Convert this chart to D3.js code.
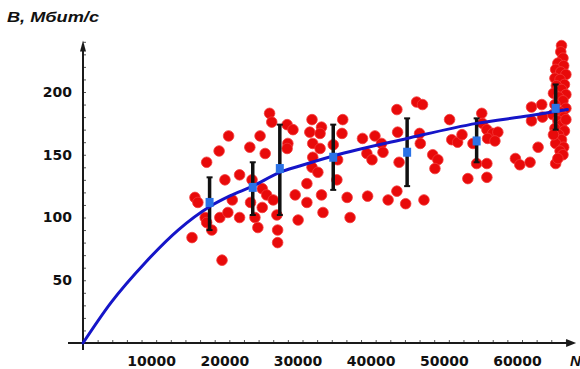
<!DOCTYPE html>
<html><head><meta charset="utf-8">
<script src="https://cdn.jsdelivr.net/npm/d3@7"></script>
<style>
html,body{margin:0;padding:0;background:#fff;overflow:hidden;}
svg{display:block;}
</style></head>
<body>
<svg id="chart" width="580" height="369"></svg>
<script>
// ---- data ----
const yLabel = "В, Мбит/с";
const xLabel = "N";
const xTickValues = [10000, 20000, 30000, 40000, 50000, 60000];
const yTickValues = [50, 100, 150, 200];

// measured points [N, B]
const measured = [
  [14900,84],[15300,116],[15700,112],[16700,100],[16900,96],[17600,90],[16900,144],[18600,153],
  [19900,165],[19400,130],[20400,114],[18700,100],[19800,104],[19000,66],
  [21400,134],[23100,130],[22800,156],[24200,165],[24900,151],[21400,100],[23500,100],[23900,92],
  [22900,112],[24500,108],[24500,123],[25100,118],[26000,114],[26500,102],[26600,90],[26600,80],
  [25500,183],[25800,176],[27900,174],[28700,170],[28000,159],[27900,155],[29000,118],[29400,98],
  [30600,127],[30600,112],
  [31300,178],[32600,172],[35500,178],[31000,168],[32400,167],[35400,167],[31400,159],[32400,155],
  [34200,158],[31400,148],[34800,146],[31300,140],[32100,136],[34700,130],[32600,118],[36100,116],
  [32800,104],[36500,100],
  [38200,163],[39900,165],[40800,159],[41000,152],[38800,151],[39500,146],[42900,186],[43000,168],
  [46000,167],[46100,159],[45600,192],[46400,190],[43200,144],[38900,117],[41700,114],[42900,121],
  [44100,111],[46600,114],[47800,150],[48500,146],[48100,139],
  [50100,178],[54500,183],[54600,175],[55200,170],[56000,167],[56700,168],[55300,163],[56300,161],
  [50400,162],[51200,160],[51800,166],[53300,159],[53800,143],[55200,143],[52600,131],[55200,132],
  [59100,147],[59700,142],[61100,144],[61300,188],[62700,190],[61300,177],[62800,180],[62200,156],
  [64600,143],
  [65400,237],[65300,232],[65600,227],[64900,223],[65700,221],[64600,218],[65300,216],[66000,214],
  [64500,211],[65200,210],[65800,206],[64700,205],[65400,202],[64300,199],[66000,198],[65000,196],
  [65600,193],[64500,190],[66000,187],[65200,184],[64200,182],[65700,180],[64900,177],[65400,174],
  [64500,171],[65800,169],[65000,166],[65400,162],[64600,159],[65700,156],[65200,153],[65600,150],
  [64900,147],[66000,178],[64300,166]
];

// group means with spread: [N, mean, upper, lower]
const groupN     = [17300, 23200, 26900, 34200, 44300, 53800, 64600];
const groupMean  = [112, 124, 139, 148, 152, 161, 187];
const groupUpper = [132, 144, 174, 174, 179, 179, 206];
const groupLower = [90, 102, 102, 122, 125, 144, 170];

// fitted curve [N, B]
const fitCurve = [
  [0,0],[3800,32],[8500,64],[13000,90],[17400,109],[20000,117],[23200,125],[26900,136],
  [29600,141],[34200,149],[44300,163],[53800,175],[61000,181],[66200,186]
];

// ---- drawing ----
const svg = d3.select("#chart");
const x = d3.scaleLinear().domain([0, 60000]).range([83, 522]);
const y = d3.scaleLinear().domain([0, 200]).range([343, 92]);

const axisColor = "#1a1a1a";
const labelFont = "'DejaVu Sans', Verdana, sans-serif";

// minor ticks
const xMinor = d3.range(2000, 67000, 2000);
const yMinor = d3.range(10, 241, 10);

const gx = svg.append("g").attr("transform", `translate(0,${y(0)})`);
gx.call(d3.axisBottom(x).tickValues(xMinor).tickSize(-3).tickFormat(""));
gx.select(".domain").remove();
gx.selectAll("line").attr("stroke", "#555").attr("stroke-width", 1);

const gxl = svg.append("g").attr("transform", `translate(0,${y(0)})`);
gxl.call(d3.axisBottom(x).tickValues(xTickValues).tickSize(0).tickPadding(13).tickFormat(d3.format("d")));
gxl.select(".domain").remove();
gxl.selectAll("text").attr("font-family", labelFont).attr("font-size", 14).attr("font-weight", "bold")
   .attr("fill", "#111").attr("dx", -5);

const gy = svg.append("g").attr("transform", `translate(${x(0)},0)`);
gy.call(d3.axisLeft(y).tickValues(yMinor).tickSize(-3).tickFormat(""));
gy.select(".domain").remove();
gy.selectAll("line").attr("stroke", "#555").attr("stroke-width", 1);

const gyl = svg.append("g").attr("transform", `translate(${x(0)},0)`);
gyl.call(d3.axisLeft(y).tickValues(yTickValues).tickSize(0).tickPadding(11));
gyl.select(".domain").remove();
gyl.selectAll("text").attr("font-family", labelFont).attr("font-size", 14).attr("font-weight", "bold").attr("fill", "#111");

// axis lines with arrows
const x0 = x(0), y0 = y(0);
const xEnd = x(67400), yTop = y(241);
svg.append("line").attr("x1", x0 - 15).attr("x2", xEnd - 4).attr("y1", y0).attr("y2", y0)
  .attr("stroke", axisColor).attr("stroke-width", 2);
svg.append("line").attr("x1", x0).attr("x2", x0).attr("y1", y0 + 7).attr("y2", yTop + 4)
  .attr("stroke", axisColor).attr("stroke-width", 2);
svg.append("path").attr("d", `M${xEnd},${y0} L${xEnd - 10},${y0 - 4} L${xEnd - 10},${y0 + 4} Z`).attr("fill", axisColor);
svg.append("path").attr("d", `M${x0},${yTop} L${x0 - 3},${yTop + 11} L${x0 + 3},${yTop + 11} Z`).attr("fill", axisColor);

// scatter
svg.append("g").selectAll("circle").data(measured).join("circle")
  .attr("cx", d => x(d[0])).attr("cy", d => y(d[1])).attr("r", 5.3)
  .attr("fill", "#e80a0a").attr("stroke", "#f23a3a").attr("stroke-width", 0.8);

// error bars
const bars = groupN.map((n, i) => ({n, m: groupMean[i], hi: groupUpper[i], lo: groupLower[i]}));
const gb = svg.append("g");
gb.selectAll("line.bar").data(bars).join("line").attr("class", "bar")
  .attr("x1", d => x(d.n)).attr("x2", d => x(d.n)).attr("y1", d => y(d.hi)).attr("y2", d => y(d.lo))
  .attr("stroke", "#111").attr("stroke-width", 3.5);
gb.selectAll("line.capT").data(bars).join("line").attr("class", "capT")
  .attr("x1", d => x(d.n) - 3).attr("x2", d => x(d.n) + 3).attr("y1", d => y(d.hi)).attr("y2", d => y(d.hi))
  .attr("stroke", "#111").attr("stroke-width", 2);
gb.selectAll("line.capB").data(bars).join("line").attr("class", "capB")
  .attr("x1", d => x(d.n) - 3).attr("x2", d => x(d.n) + 3).attr("y1", d => y(d.lo)).attr("y2", d => y(d.lo))
  .attr("stroke", "#111").attr("stroke-width", 2);

// fit curve
svg.append("path").datum(fitCurve)
  .attr("d", d3.line().x(d => x(d[0])).y(d => y(d[1])).curve(d3.curveMonotoneX))
  .attr("fill", "none").attr("stroke", "#1515c8").attr("stroke-width", 3).attr("stroke-linecap", "round");

// group means
svg.append("g").selectAll("rect").data(bars).join("rect")
  .attr("x", d => x(d.n) - 4).attr("y", d => y(d.m) - 4.5).attr("width", 8).attr("height", 9)
  .attr("fill", "#2a72e6");

// axis titles
svg.append("text").attr("x", 7).attr("y", 22).text(yLabel)
  .attr("font-family", "'Liberation Sans', Arial, sans-serif").attr("font-size", 15)
  .attr("font-weight", "bold").attr("font-style", "italic").attr("fill", "#111")
  .attr("textLength", 92).attr("lengthAdjust", "spacingAndGlyphs");
svg.append("text").attr("x", 570).attr("y", 366).text(xLabel)
  .attr("font-family", "'Liberation Sans', Arial, sans-serif").attr("font-size", 15)
  .attr("font-weight", "bold").attr("font-style", "italic").attr("fill", "#111");
</script>
</body></html>
